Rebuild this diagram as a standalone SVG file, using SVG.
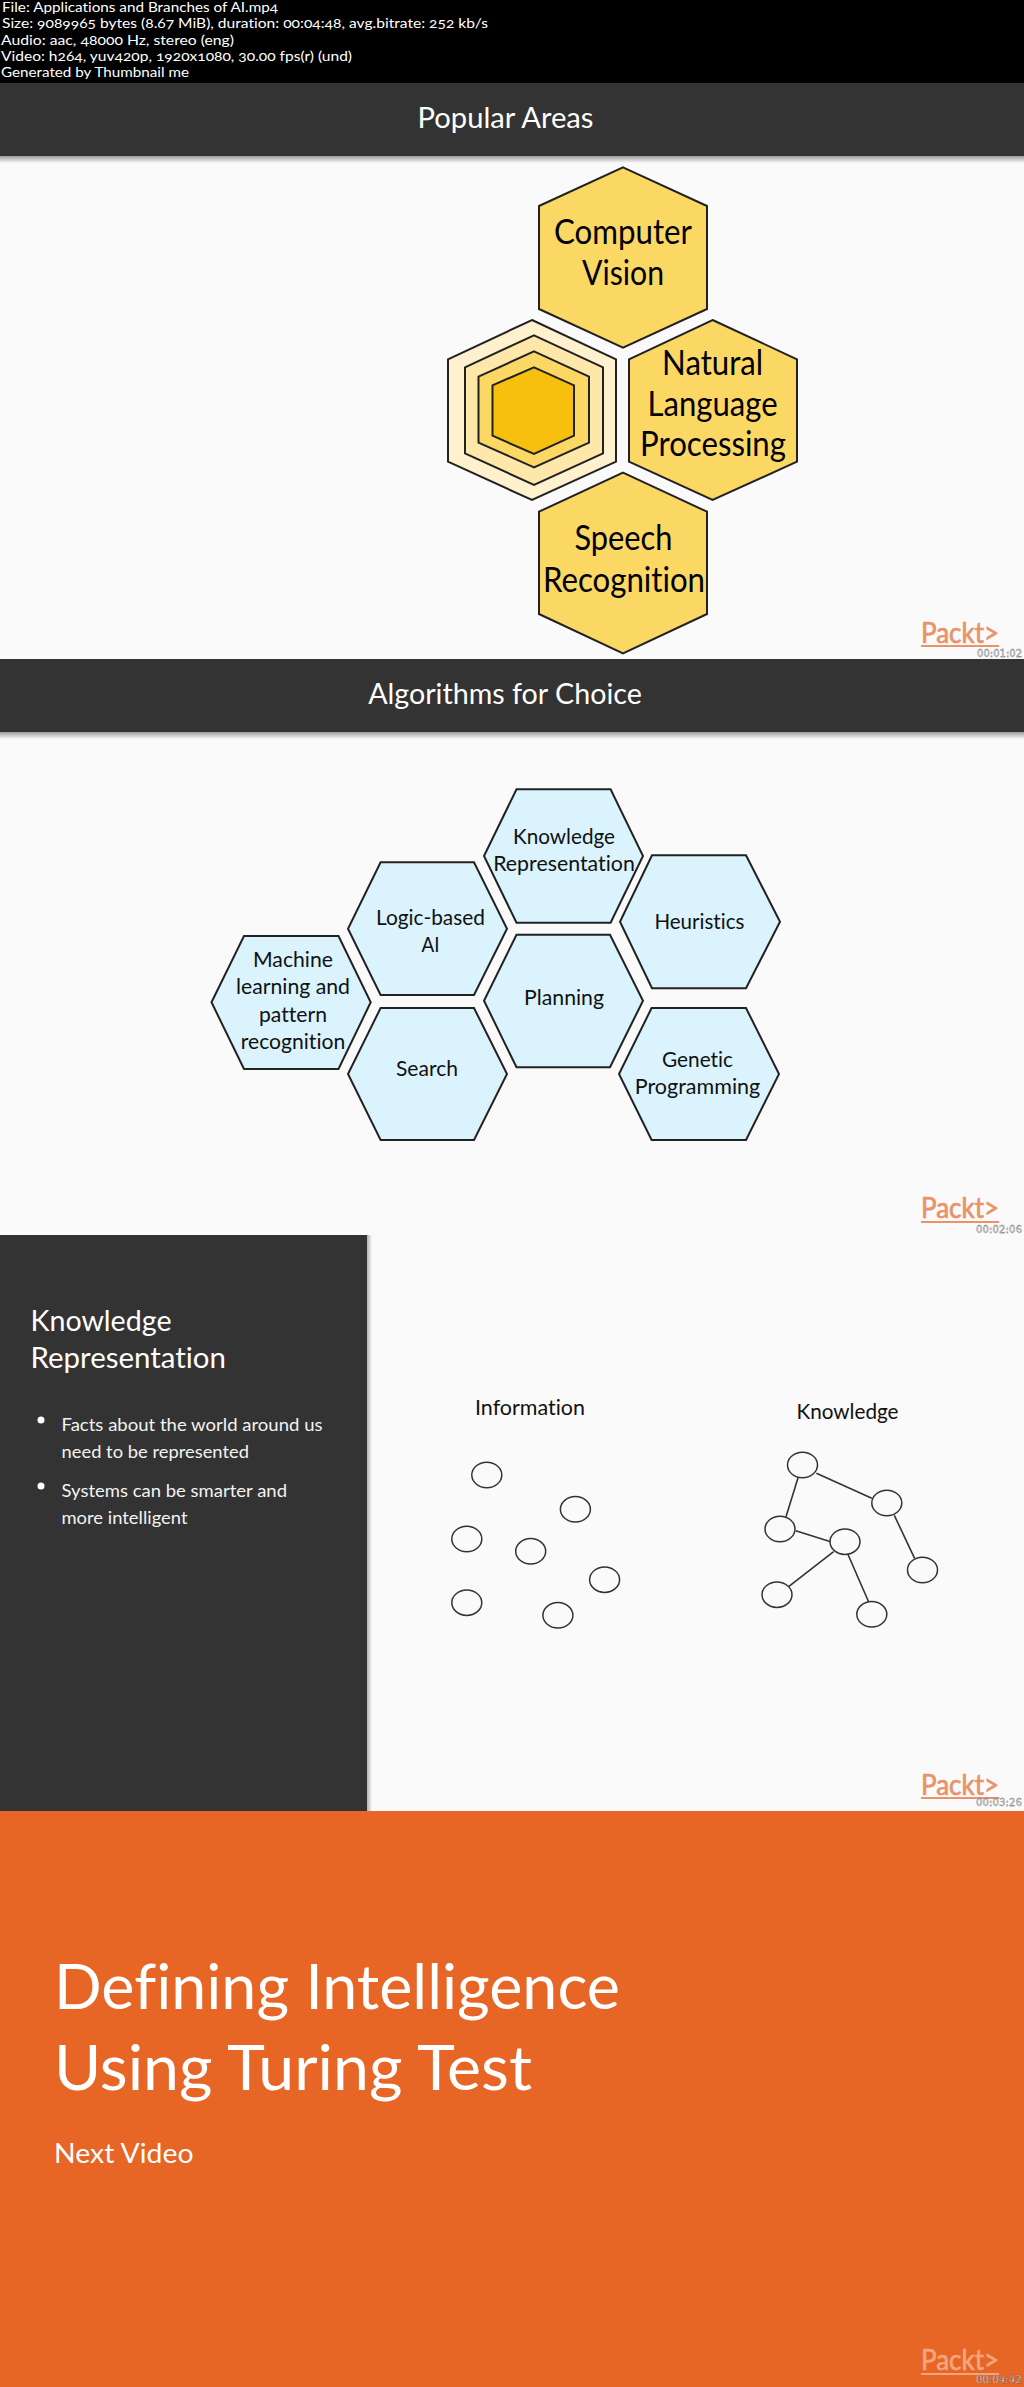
<svg xmlns="http://www.w3.org/2000/svg" width="1024" height="2387" viewBox="0 0 1024 2387">
<defs>
<linearGradient id="shV" x1="0" y1="0" x2="0" y2="1"><stop offset="0" stop-color="#9a9a9a"/><stop offset="1" stop-color="#fafafa"/></linearGradient>
<linearGradient id="shH" x1="0" y1="0" x2="1" y2="0"><stop offset="0" stop-color="#b0b0b0"/><stop offset="1" stop-color="#fafafa"/></linearGradient>
</defs>
<style>
text{font-family:Lato,"Liberation Sans",sans-serif;font-variant-ligatures:none}
.meta{font-size:14px;fill:#fff;font-variant-numeric:oldstyle-nums}
.hd{font-size:29px;fill:#fff;text-anchor:middle}
.big{font-size:34px;fill:#000;text-anchor:middle}
.mid{font-size:21.5px;fill:#111;text-anchor:middle}
.pt{font-size:29px;fill:#fff}
.bul{font-size:17.5px;fill:#f2f2f2}
.y{fill:#fbd864;stroke:#222;stroke-width:2}
.b{fill:#daf3fd;stroke:#222;stroke-width:2}
.r{stroke:#222;stroke-width:2}
.c{fill:#fafafa;stroke:#333;stroke-width:1.5}
.ln{stroke:#333;stroke-width:1.6;fill:none}
.logo{font-size:28px;fill:#ea9268;stroke:#ea9268;stroke-width:.7}
.tc{font-family:"DejaVu Sans",sans-serif;font-size:10px;fill:#fff;stroke:#444;stroke-width:.35}
</style>
<rect width="1024" height="2387" fill="#fafafa"/>
<g id="file-info">
<rect width="1024" height="83" fill="#000"/>
<text class="meta" x="2" y="12" textLength="276" lengthAdjust="spacingAndGlyphs">File: Applications and Branches of AI.mp4</text>
<text class="meta" x="2" y="28" textLength="486" lengthAdjust="spacingAndGlyphs">Size: 9089965 bytes (8.67 MiB), duration: 00:04:48, avg.bitrate: 252 kb/s</text>
<text class="meta" x="1" y="45" textLength="233" lengthAdjust="spacingAndGlyphs">Audio: aac, 48000 Hz, stereo (eng)</text>
<text class="meta" x="1" y="61" textLength="351" lengthAdjust="spacingAndGlyphs">Video: h264, yuv420p, 1920x1080, 30.00 fps(r) (und)</text>
<text class="meta" x="1" y="77" textLength="188" lengthAdjust="spacingAndGlyphs">Generated by Thumbnail me</text>
</g>
<g id="slide1-header">
<rect y="83" width="1024" height="73" fill="#333"/>
<rect y="156" width="1024" height="7" fill="url(#shV)"/>
<text class="hd" x="505.5" y="128" textLength="176" lengthAdjust="spacingAndGlyphs">Popular Areas</text>
</g>
<g id="hex-center">
<polygon class="r" points="532,320 616,359.3 616,461.7 532,500 448,461.7 448,359.3" fill="#fff1cd"/>
<polygon class="r" points="534,335.3 603,367.3 603,453.3 534,485 465,453.3 465,367.3" fill="#fde7a9"/>
<polygon class="r" points="534,351.3 589,376.7 589,442.7 534,467.3 478.5,442.7 478.5,376.7" fill="#fbd864"/>
<polygon class="r" points="534,367.3 574,385.3 574,435.7 534,454 492.5,435.7 492.5,385.3" fill="#f7c00f"/>
</g>
<g id="hex-computer-vision">
<polygon class="y" points="623,167.3 707,206 707,309 623,347.7 539,309 539,206"/>
<text class="big" x="623" y="244.3" textLength="138" lengthAdjust="spacingAndGlyphs">Computer</text>
<text class="big" x="623" y="285" textLength="82" lengthAdjust="spacingAndGlyphs">Vision</text>
</g>
<g id="hex-nlp">
<polygon class="y" points="712.6,320 797,359.3 797,461.7 712.6,500 629,461.7 629,359.3"/>
<text class="big" x="712.6" y="375" textLength="101" lengthAdjust="spacingAndGlyphs">Natural</text>
<text class="big" x="712.6" y="415.7" textLength="130" lengthAdjust="spacingAndGlyphs">Language</text>
<text class="big" x="713" y="455.7" textLength="146" lengthAdjust="spacingAndGlyphs">Processing</text>
</g>
<g id="hex-speech">
<polygon class="y" points="623,472.7 707,511.7 707,614 623,653.3 539,614 539,511.7"/>
<text class="big" x="623.5" y="550" textLength="98" lengthAdjust="spacingAndGlyphs">Speech</text>
<text class="big" x="624" y="591.7" textLength="162" lengthAdjust="spacingAndGlyphs">Recognition</text>
</g>
<g id="logo1">
<text class="logo" x="921" y="642.7" textLength="78" lengthAdjust="spacingAndGlyphs">Packt&gt;</text>
<rect x="921" y="645" width="78" height="2" fill="#ea9268"/>
<text class="tc" x="977" y="657" textLength="45">00:01:02</text>
</g>
<g id="slide2-header">
<rect y="659" width="1024" height="73" fill="#333"/>
<rect y="732" width="1024" height="7" fill="url(#shV)"/>
<text class="hd" x="505" y="704.3" textLength="273.7" lengthAdjust="spacingAndGlyphs">Algorithms for Choice</text>
</g>
<g id="hex-knowledge-representation">
<polygon class="b" points="516.5,789.3 610.6,789.3 643,856 610.6,922.7 516.5,922.7 484,856"/>
<text class="mid" x="564" y="844" textLength="102" lengthAdjust="spacingAndGlyphs">Knowledge</text>
<text class="mid" x="564" y="871" textLength="141.6" lengthAdjust="spacingAndGlyphs">Representation</text>
</g>
<g id="hex-logic">
<polygon class="b" points="380.6,862.3 474,862.3 507,928.7 474,995 380.6,995 348,928.7"/>
<text class="mid" x="430.5" y="925" textLength="109" lengthAdjust="spacingAndGlyphs">Logic-based</text>
<text class="mid" x="430.5" y="952.3" textLength="18" lengthAdjust="spacingAndGlyphs">AI</text>
</g>
<g id="hex-machine-learning">
<polygon class="b" points="244,936 338.5,936 370.7,1002.3 338.5,1069 244,1069 211.5,1002.3"/>
<text class="mid" x="293" y="967.3" textLength="80" lengthAdjust="spacingAndGlyphs">Machine</text>
<text class="mid" x="293" y="994.3" textLength="114" lengthAdjust="spacingAndGlyphs">learning and</text>
<text class="mid" x="293" y="1021.7" textLength="68" lengthAdjust="spacingAndGlyphs">pattern</text>
<text class="mid" x="293" y="1049.3" textLength="104.5" lengthAdjust="spacingAndGlyphs">recognition</text>
</g>
<g id="hex-search">
<polygon class="b" points="380.6,1008 474,1008 507,1074 474,1140 380.6,1140 348,1074"/>
<text class="mid" x="427" y="1076" textLength="62" lengthAdjust="spacingAndGlyphs">Search</text>
</g>
<g id="hex-planning">
<polygon class="b" points="516.5,934.7 610,934.7 643,1000.7 610,1067.3 516.5,1067.3 484,1000.7"/>
<text class="mid" x="564" y="1005" textLength="80" lengthAdjust="spacingAndGlyphs">Planning</text>
</g>
<g id="hex-heuristics">
<polygon class="b" points="652,855.3 746,855.3 780,921.7 746,988.3 652,988.3 620,921.7"/>
<text class="mid" x="699.4" y="929.3" textLength="90" lengthAdjust="spacingAndGlyphs">Heuristics</text>
</g>
<g id="hex-genetic">
<polygon class="b" points="651.6,1008 746,1008 779,1074 746,1140 651.6,1140 619,1074"/>
<text class="mid" x="697.5" y="1067.3" textLength="71" lengthAdjust="spacingAndGlyphs">Genetic</text>
<text class="mid" x="697.5" y="1094.3" textLength="125.5" lengthAdjust="spacingAndGlyphs">Programming</text>
</g>
<g id="logo2">
<text class="logo" x="921" y="1218" textLength="78" lengthAdjust="spacingAndGlyphs">Packt&gt;</text>
<rect x="921" y="1221" width="78" height="2" fill="#ea9268"/>
<text class="tc" x="976" y="1233" textLength="46">00:02:06</text>
</g>
<g id="slide3-panel">
<rect x="367" y="1235" width="5" height="576" fill="url(#shH)"/>
<rect y="1235" width="367" height="576" fill="#333"/>
<text class="pt" x="30.5" y="1331" textLength="141" lengthAdjust="spacingAndGlyphs">Knowledge</text>
<text class="pt" x="30.5" y="1368" textLength="195.5" lengthAdjust="spacingAndGlyphs">Representation</text>
<circle cx="41" cy="1420" r="3.5" fill="#fff"/>
<text class="bul" x="61.5" y="1430.7" textLength="261" lengthAdjust="spacingAndGlyphs">Facts about the world around us</text>
<text class="bul" x="61.5" y="1458.3" textLength="187.5" lengthAdjust="spacingAndGlyphs">need to be represented</text>
<circle cx="41" cy="1486" r="3.5" fill="#fff"/>
<text class="bul" x="61.5" y="1496.7" textLength="225.5" lengthAdjust="spacingAndGlyphs">Systems can be smarter and</text>
<text class="bul" x="61.5" y="1524.3" textLength="126" lengthAdjust="spacingAndGlyphs">more intelligent</text>
</g>
<g id="label-information"><text class="mid" x="530" y="1415" textLength="110" lengthAdjust="spacingAndGlyphs">Information</text></g>
<g id="label-knowledge"><text class="mid" x="847.5" y="1418.7" textLength="102" lengthAdjust="spacingAndGlyphs">Knowledge</text></g>
<g id="connectors">
<line class="ln" x1="816.4" y1="1473.3" x2="871.8" y2="1498.3"/>
<line class="ln" x1="798.2" y1="1477.3" x2="786" y2="1516.7"/>
<line class="ln" x1="795.7" y1="1530.7" x2="830.7" y2="1541.7"/>
<line class="ln" x1="833.6" y1="1551.7" x2="788.6" y2="1586.7"/>
<line class="ln" x1="847.9" y1="1554.3" x2="868.6" y2="1601.7"/>
<line class="ln" x1="894.3" y1="1515.3" x2="914.6" y2="1558.3"/>
</g>
<g id="info-node-1"><ellipse class="c" cx="486.8" cy="1475" rx="15" ry="12.7"/></g>
<g id="info-node-2"><ellipse class="c" cx="575.4" cy="1509.3" rx="15" ry="12.7"/></g>
<g id="info-node-3"><ellipse class="c" cx="466.8" cy="1539" rx="15" ry="12.7"/></g>
<g id="info-node-4"><ellipse class="c" cx="530.7" cy="1551.3" rx="15" ry="12.7"/></g>
<g id="info-node-5"><ellipse class="c" cx="604.6" cy="1579.7" rx="15" ry="12.7"/></g>
<g id="info-node-6"><ellipse class="c" cx="466.8" cy="1602.7" rx="15" ry="12.7"/></g>
<g id="info-node-7"><ellipse class="c" cx="557.9" cy="1615.3" rx="15" ry="12.7"/></g>
<g id="know-node-1"><ellipse class="c" cx="802.5" cy="1465" rx="15" ry="12.7"/></g>
<g id="know-node-2"><ellipse class="c" cx="886.8" cy="1503" rx="15" ry="12.7"/></g>
<g id="know-node-3"><ellipse class="c" cx="780" cy="1529" rx="15" ry="12.7"/></g>
<g id="know-node-4"><ellipse class="c" cx="845" cy="1541.7" rx="15" ry="12.7"/></g>
<g id="know-node-5"><ellipse class="c" cx="922.5" cy="1570" rx="15" ry="12.7"/></g>
<g id="know-node-6"><ellipse class="c" cx="777" cy="1594.7" rx="15" ry="12.7"/></g>
<g id="know-node-7"><ellipse class="c" cx="871.8" cy="1614.3" rx="15" ry="12.7"/></g>
<g id="slide4">
<rect y="1811" width="1024" height="576" fill="#e76525"/>
<text x="54" y="2009" font-size="62" fill="#fff" textLength="566" lengthAdjust="spacingAndGlyphs">Defining Intelligence</text>
<text x="54" y="2090" font-size="62" fill="#fff" textLength="478" lengthAdjust="spacingAndGlyphs">Using Turing Test</text>
<text x="54" y="2162.7" font-size="27" fill="#fff" textLength="139.5" lengthAdjust="spacingAndGlyphs">Next Video</text>
</g>
<g id="logo3">
<text class="logo" x="921" y="1795" textLength="78" lengthAdjust="spacingAndGlyphs">Packt&gt;</text>
<rect x="921" y="1797" width="78" height="2" fill="#ea9268"/>
<text class="tc" x="976" y="1806" textLength="46">00:03:26</text>
</g>
<g id="logo4">
<text class="logo" style="fill:#f3a67d;stroke:#f3a67d" x="921" y="2370" textLength="78" lengthAdjust="spacingAndGlyphs">Packt&gt;</text>
<rect x="921" y="2373" width="78" height="2" fill="#f3a67d"/>
<text class="tc" x="976" y="2383" textLength="46">00:04:42</text>
</g>
</svg>
